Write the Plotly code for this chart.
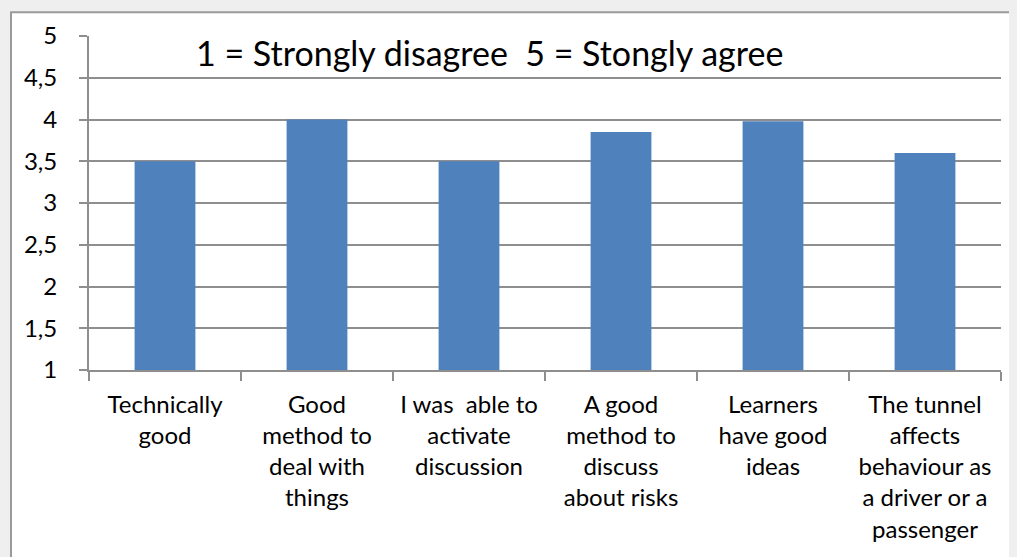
import plotly.graph_objects as go

categories = [
    "Technically<br>good",
    "Good<br>method to<br>deal with<br>things",
    "I was  able to<br>activate<br>discussion",
    "A good<br>method to<br>discuss<br>about risks",
    "Learners<br>have good<br>ideas",
    "The tunnel<br>affects<br>behaviour as<br>a driver or a<br>passenger",
]
values = [3.5, 4.0, 3.5, 3.85, 3.98, 3.6]
y_ticks = [1, 1.5, 2, 2.5, 3, 3.5, 4, 4.5, 5]
y_ticklabels = ["1", "1,5", "2", "2,5", "3", "3,5", "4", "4,5", "5"]
note = "1 = Strongly disagree  5 = Stongly agree"
axis_floor = 1

FONT = "Lato, Open Sans, sans-serif"
GRID = "#8e8e8e"

# page body has an 8px margin: figure coordinates are offset by 8px
L, R, T, B = 81, 993, 25, 362
W, H = 1009, 549
PW, PH = R - L, B - T

fig = go.Figure()
fig.add_trace(go.Bar(
    x=categories, y=[v - axis_floor for v in values], base=axis_floor,
    marker=dict(color="#4f81bd", line=dict(width=0)),
    width=0.4,
))

fig.update_layout(
    width=W, height=H,
    margin=dict(l=L, r=W - R, t=T, b=H - B),
    paper_bgcolor="#efefef",
    plot_bgcolor="white",
    showlegend=False,
    font=dict(family=FONT, color="black"),
    xaxis=dict(
        type="category",
        showline=True, linecolor=GRID, linewidth=2,
        ticks="outside", tickson="boundaries", ticklen=9, tickcolor=GRID, tickwidth=2,
        tickfont=dict(size=24, family=FONT),
        ticklabelstandoff=12,
        showgrid=False,
    ),
    yaxis=dict(
        range=[1, 5],
        tickvals=y_ticks, ticktext=y_ticklabels,
        showline=True, linecolor=GRID, linewidth=2,
        ticks="outside", ticklen=8, tickcolor=GRID, tickwidth=2,
        showgrid=True, gridcolor=GRID, gridwidth=2,
        tickfont=dict(size=24, family=FONT),
        ticklabelstandoff=17,
        zeroline=False,
    ),
    shapes=[dict(
        type="rect", xref="paper", yref="paper",
        x0=(3 - L) / PW, x1=1.5, y0=-1.0, y1=(B - 1) / PH,
        fillcolor="white", line=dict(color="#9a9a9a", width=2), layer="below",
    )],
    annotations=[dict(
        text=note, xref="paper", yref="paper",
        x=(481 - L) / PW, y=(B - 42) / PH,
        showarrow=False, xanchor="center", yanchor="middle",
        font=dict(size=34, family=FONT, color="black"),
    )],
)

fig.write_html("out.html", post_script="document.body.style.background='#efefef';")
